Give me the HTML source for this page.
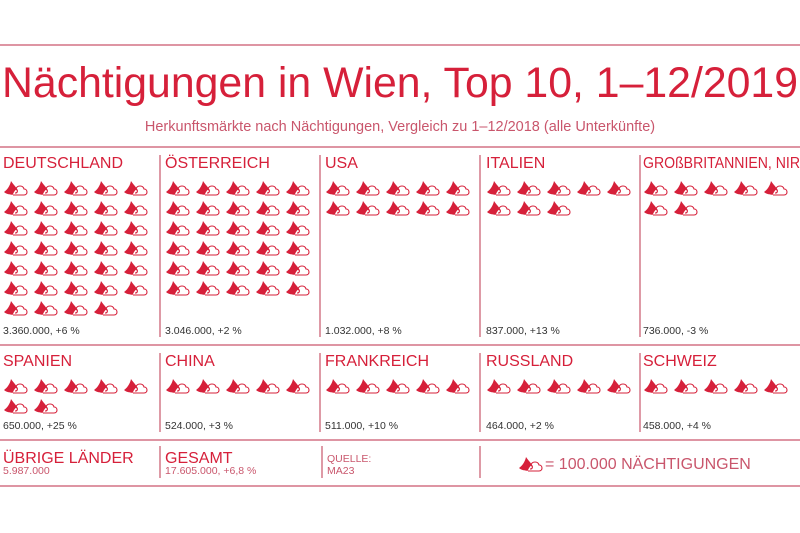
<!DOCTYPE html>
<html><head><meta charset="utf-8"><style>
body{margin:0;width:800px;height:533px;background:#fff;overflow:hidden;font-family:"Liberation Sans",sans-serif}
svg{display:block}
</style></head><body>
<svg id="c" width="800" height="533" viewBox="0 0 800 533">
<defs>
<g id="ico">
<path d="M1,12 C4,10 7,6 8,1 C10,4 13,7 14,9 C12,10 11,12 10,14 C7,15 3,14 1,12Z" fill="#d6203a"/>
<path d="M10,14 C7,15 5,12 7,10 C8,7 12,7 13,9 C14,5 20,5 21,9 C25,9 25,15 21,15 L10,15 M13,9 C15,10 15,13 12,13" fill="none" stroke="#d6203a" stroke-width="1.1"/>
</g>
</defs>
<g stroke="#c9566c" stroke-width="1.2">
<line x1="0" y1="45" x2="800" y2="45"/><line x1="0" y1="147" x2="800" y2="147"/>
<line x1="0" y1="345" x2="800" y2="345"/><line x1="0" y1="440" x2="800" y2="440"/>
<line x1="0" y1="486" x2="800" y2="486"/>
<line x1="160" y1="155" x2="160" y2="337"/><line x1="320" y1="155" x2="320" y2="337"/>
<line x1="480" y1="155" x2="480" y2="337"/><line x1="640" y1="155" x2="640" y2="337"/>
<line x1="160" y1="353" x2="160" y2="432"/><line x1="320" y1="353" x2="320" y2="432"/>
<line x1="480" y1="353" x2="480" y2="432"/><line x1="640" y1="353" x2="640" y2="432"/>
<line x1="160" y1="446" x2="160" y2="478"/><line x1="322" y1="446" x2="322" y2="478"/>
<line x1="480" y1="446" x2="480" y2="478"/>
</g>
<text x="400" y="97" text-anchor="middle" font-size="43" fill="#d6203a" textLength="796" lengthAdjust="spacingAndGlyphs">Nächtigungen in Wien, Top 10, 1–12/2019</text>
<text x="400" y="131" text-anchor="middle" font-size="14.5" fill="#c9566c">Herkunftsmärkte nach Nächtigungen, Vergleich zu 1–12/2018 (alle Unterkünfte)</text>
<g id="cells"></g>
<g font-size="16" fill="#d6203a">
<text x="3" y="463">ÜBRIGE LÄNDER</text>
<text x="165" y="463">GESAMT</text>
<text x="545" y="469" fill="#c9566c">= 100.000 NÄCHTIGUNGEN</text>
</g>
<g font-size="10.5" fill="#c9566c">
<text x="3" y="474">5.987.000</text>
<text x="165" y="474">17.605.000, +6,8 %</text>
<text x="327" y="462">QUELLE:</text>
<text x="327" y="474">MA23</text>
</g>
<use href="#ico" x="518" y="456"/>
</svg>
<script>
const countries=["DEUTSCHLAND","ÖSTERREICH","USA","ITALIEN","GROßBRITANNIEN, NIR","SPANIEN","CHINA","FRANKREICH","RUSSLAND","SCHWEIZ"];
const nights=[3360000,3046000,1032000,837000,736000,650000,524000,511000,464000,458000];
const changes=["+6 %","+2 %","+8 %","+13 %","-3 %","+25 %","+3 %","+10 %","+2 %","+4 %"];
const unit=100000;
const ns="http://www.w3.org/2000/svg";
const g=document.getElementById("cells");
function fmt(v){return v.toString().replace(/\B(?=(\d{3})+(?!\d))/g,".");}
countries.forEach((name,i)=>{
  const col=i%5,row=Math.floor(i/5);
  const x0=[3,165,325,486,643][col];
  const top=row===0?147:345;
  const cell=document.createElementNS(ns,"g");
  
  
  const t=document.createElementNS(ns,"text");
  t.setAttribute("x",x0);t.setAttribute("y",top+21);t.setAttribute("font-size","16");t.setAttribute("fill","#d6203a");
  if(name.length>15){t.setAttribute("textLength","157");t.setAttribute("lengthAdjust","spacingAndGlyphs");}
  t.textContent=name;
  
  
  cell.appendChild(t);
  const n=Math.round(nights[i]/unit);
  for(let k=0;k<n;k++){
    const u=document.createElementNS(ns,"use");
    u.setAttribute("href","#ico");
    u.setAttribute("x",x0+(k%5)*30);
    u.setAttribute("y",top+33+Math.floor(k/5)*20);
    
    
    cell.appendChild(u);
  }
  const v=document.createElementNS(ns,"text");
  v.setAttribute("x",x0);v.setAttribute("y",row===0?334:429);v.setAttribute("font-size","10.5");v.setAttribute("fill","#333");
  v.textContent=fmt(nights[i])+", "+changes[i];
  
  
  cell.appendChild(v);
  g.appendChild(cell);
});
</script>
</body></html>
